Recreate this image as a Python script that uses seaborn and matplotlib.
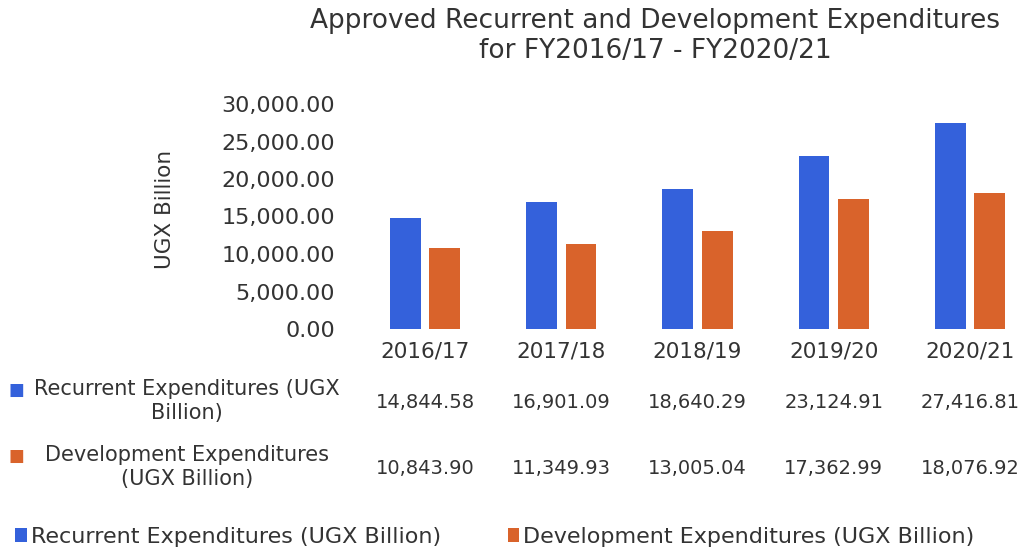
import pandas as pd
import matplotlib.pyplot as plt
import seaborn as sns
from matplotlib.ticker import FuncFormatter

years = ["2016/17", "2017/18", "2018/19", "2019/20", "2020/21"]
recurrent = [14844.58, 16901.09, 18640.29, 23124.91, 27416.81]
development = [10843.90, 11349.93, 13005.04, 17362.99, 18076.92]
series_names = ["Recurrent Expenditures (UGX Billion)",
                "Development Expenditures (UGX Billion)"]
table_labels = ["Recurrent Expenditures (UGX\nBillion)",
                "Development Expenditures\n(UGX Billion)"]
colors = ["#3461DB", "#D9632B"]

df = pd.DataFrame({
    "year": years * 2,
    "value": recurrent + development,
    "series": [series_names[0]] * len(years) + [series_names[1]] * len(years),
})

sns.set_style("white")
plt.rcParams["font.family"] = ["DejaVu Sans"]
text_color = "#333333"

W, H = 1027, 554
fig = plt.figure(figsize=(W / 100, H / 100), dpi=100)
# axes placed in pixel terms of the reference
ax = fig.add_axes([357 / W, 1 - 329 / H, 681 / W, 225 / H])

sns.barplot(data=df, x="year", y="value", hue="series", palette=colors,
            saturation=1, width=0.58, gap=0.22, linewidth=0,
            ax=ax, legend=True)

ax.set_ylim(0, 30000)
ax.set_yticks(range(0, 30001, 5000))
ax.yaxis.set_major_formatter(FuncFormatter(lambda v, p: f"{v:,.2f}"))
ax.tick_params(axis="y", labelsize=16, colors=text_color, length=0, pad=16)
ax.tick_params(axis="x", labelsize=15.5, colors=text_color, length=0, pad=9)
ax.set_xlabel("")
ax.set_ylabel("UGX Billion", fontsize=15.5, color=text_color)
ax.yaxis.set_label_coords((175 - 357) / 681, 0.53)
sns.despine(ax=ax, left=True, bottom=True)

fig.text(655 / W, 1 - 36 / H,
         "Approved Recurrent and Development Expenditures\nfor FY2016/17 - FY2020/21",
         ha="center", va="center", fontsize=19, color=text_color, linespacing=1.2)

# data table below the chart
for row, (vals, lab, col) in enumerate(zip([recurrent, development], table_labels, colors)):
    y_px = 402 + row * 66
    for i, v in enumerate(vals):
        ax.text(i, 1 - y_px / H, f"{v:,.2f}",
                transform=ax.get_xaxis_transform().__class__(ax.transData, fig.transFigure),
                ha="center", va="center", fontsize=14, color=text_color)
    fig.text(187 / W, 1 - (y_px - 1) / H, lab, ha="center", va="center",
             fontsize=15, color=text_color, linespacing=1.3)
    fig.text(8 / W, 1 - (y_px - 12) / H, "■", ha="left", va="center",
             fontsize=12, color=col)

handles, labels = ax.get_legend_handles_labels()
ax.get_legend().remove()
fig.legend(handles, labels, loc="center", ncol=2, frameon=False,
           fontsize=16, bbox_to_anchor=(0.482, 1 - 537 / H), handlelength=0.5,
           handleheight=0.6, handletextpad=0.2, columnspacing=3.0,
           labelcolor=text_color)

fig.savefig("out.png", dpi=100)
